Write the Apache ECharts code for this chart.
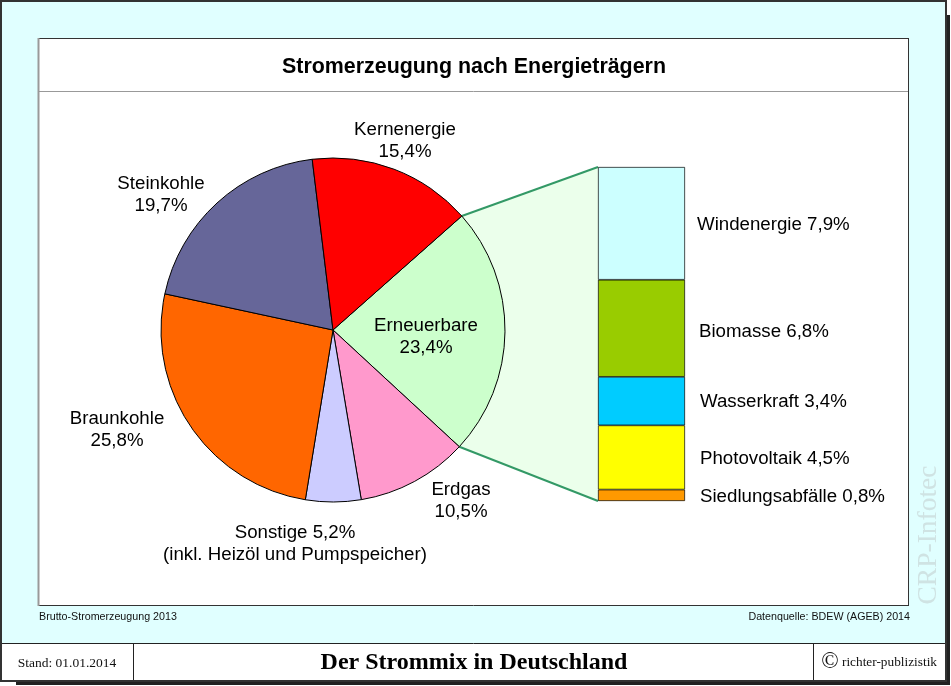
<!DOCTYPE html>
<html>
<head>
<meta charset="utf-8">
<title>Der Strommix in Deutschland</title>
<script src="https://cdn.jsdelivr.net/npm/echarts@6/dist/echarts.min.js"></script>
<style>
  html, body { margin: 0; padding: 0; background: #fff; }
  #chart { width: 951px; height: 686px; }
</style>
</head>
<body>
<div id="chart"></div>
<script>
// Strommix gesamt (Prozent)
var pieNames = ['Erneuerbare', 'Erdgas', 'Sonstige', 'Braunkohle', 'Steinkohle', 'Kernenergie']
var pieValues = [23.4, 10.5, 5.2, 25.8, 19.7, 15.4]
var pieColors = ['#ccffcc', '#ff99cc', '#ccccff', '#ff6600', '#666699', '#ff0000']
var pieLabels = ['Erneuerbare\n23,4%', 'Erdgas\n10,5%', 'Sonstige 5,2%\n(inkl. Heizöl und Pumpspeicher)', 'Braunkohle\n25,8%', 'Steinkohle\n19,7%', 'Kernenergie\n15,4%']
var pieLabelPos = [[426, 337], [461, 501], [295, 544], [117, 430], [161, 195], [405, 141]]

// Aufteilung Erneuerbare, von unten nach oben gestapelt
var barNames = ['Siedlungsabfälle', 'Photovoltaik', 'Wasserkraft', 'Biomasse', 'Windenergie']
var barValues = [0.8, 4.5, 3.4, 6.8, 7.9]
var barLabels = ['0,8%', '4,5%', '3,4%', '6,8%', '7,9%']
var barColors = ['#ff9900', '#ffff00', '#00ccff', '#99cc00', '#ccffff']
var barLabelDist = [15, 15, 15, 14, 12]
var barLabelShift = [2, 1, 1, 4, 1]
var barTotal = 23.4

var cx = 333, cy = 330, r = 172
var startAngle = 41.5

var sans = '"Liberation Sans", Arial, sans-serif'
var serif = '"Liberation Serif", "Times New Roman", serif'

// Rahmen und Fussleiste
function box(x, y, w, h, fill, stroke, z, width) {
  return { type: 'rect', z: z, silent: true, shape: { x: x, y: y, width: w, height: h }, style: { fill: fill, stroke: stroke, lineWidth: stroke ? (width || 1) : 0 } }
}
function line(x1, y1, x2, y2, color, width, z) {
  return { type: 'line', z: z, silent: true, shape: { x1: x1, y1: y1, x2: x2, y2: y2 }, style: { stroke: color, lineWidth: width } }
}
function text(x, y, str, font, fill, align, z) {
  return { type: 'text', z: z, silent: true, x: x, y: y, style: { text: str, font: font, fill: fill, textAlign: align || 'left', textVerticalAlign: 'middle' } }
}

var myChart = echarts.init(document.getElementById('chart'), null, { renderer: 'canvas' })

function buildGraphic() {
  // Verbindung Torte -> Saeule, Eckpunkte aus Winkel und Balkenachse
  var total = pieValues.reduce(function (a, b) { return a + b }, 0)
  var a1 = startAngle * Math.PI / 180
  var a2 = (startAngle - pieValues[0] / total * 360) * Math.PI / 180
  var p1 = [cx + r * Math.cos(a1), cy - r * Math.sin(a1)]
  var p2 = [cx + r * Math.cos(a2), cy - r * Math.sin(a2)]
  var barTop = myChart.convertToPixel({ gridIndex: 0 }, [0, barTotal])
  var barBottom = myChart.convertToPixel({ gridIndex: 0 }, [0, 0])
  var bx = 598
  return [
    box(16, 15, 934, 670, '#222222', null, -20),
    box(1, 1, 945, 680, '#e0ffff', '#333333', -19, 2),
    box(2, 643.5, 943, 36.5, '#ffffff', null, -18),
    line(2, 643.5, 945, 643.5, '#222222', 1, -17),
    line(133.5, 643, 133.5, 680, '#222222', 1, -17),
    line(813.5, 643, 813.5, 680, '#222222', 1, -17),
    box(39, 39, 869, 566, '#ffffff', null, -16),
    line(39, 38.5, 909, 38.5, '#333333', 1, -15),
    line(908.5, 38, 908.5, 606, '#333333', 1, -15),
    line(38, 605.5, 909, 605.5, '#333333', 1, -15),
    line(38.5, 38, 38.5, 606, '#999999', 2, -15),
    line(39, 91.5, 908, 91.5, '#999999', 1, -15),
    { type: 'polygon', z: -10, silent: true, shape: { points: [p1, [bx, barTop[1]], [bx, barBottom[1]], p2] }, style: { fill: '#ebffeb' } },
    line(p1[0], p1[1], bx, barTop[1], '#339966', 2, -9),
    line(p2[0], p2[1], bx, barBottom[1], '#339966', 2, -9),
    text(39, 617, 'Brutto-Stromerzeugung 2013', '10.7px ' + sans, '#111', 'left', 5),
    text(910, 617, 'Datenquelle: BDEW (AGEB) 2014', '10.7px ' + sans, '#111', 'right', 5),
    text(67, 663, 'Stand: 01.01.2014', '13.5px ' + serif, '#111', 'center', 5),
    text(474, 663, 'Der Strommix in Deutschland', 'bold 24px ' + serif, '#000', 'center', 5),
    text(830, 662, '©', '23px ' + serif, '#111', 'center', 5),
    text(842, 663, 'richter-publizistik', '13.3px ' + serif, '#111', 'left', 5),
    { type: 'text', z: 5, silent: true, x: 929, y: 535, rotation: Math.PI / 2, style: { text: 'CRP-Infotec', font: '27.5px ' + serif, fill: '#cfe3e3', textAlign: 'center', textVerticalAlign: 'middle' } }
  ]
}

var barSeries = barNames.map(function (name, i) {
  return {
    name: name,
    type: 'bar',
    stack: 'erneuerbare',
    barWidth: '100%',
    data: [barValues[i]],
    itemStyle: { color: barColors[i], borderColor: '#000', borderWidth: 0.7 },
    label: {
      show: true,
      position: 'right',
      distance: barLabelDist[i],
      offset: [0, barLabelShift[i]],
      formatter: name + ' ' + barLabels[i],
      fontFamily: sans,
      fontSize: 18.7,
      color: '#000'
    }
  }
})

var option = {
  animation: false,
  title: {
    text: 'Stromerzeugung nach Energieträgern',
    left: 469,
    top: 52,
    textAlign: 'center',
    textStyle: { fontFamily: sans, fontWeight: 'bold', fontSize: 21.4, color: '#000' }
  },
  grid: { left: 598, top: 167, width: 87, height: 334 },
  xAxis: { type: 'category', data: ['Erneuerbare'], show: false },
  yAxis: { type: 'value', min: 0, max: barTotal, show: false },
  series: [{
    type: 'pie',
    center: [cx, cy],
    radius: [0, r],
    startAngle: startAngle,
    clockwise: true,
    z: 3,
    data: pieNames.map(function (name, i) {
      return { name: name, value: pieValues[i], itemStyle: { color: pieColors[i] } }
    }),
    itemStyle: { borderColor: '#000', borderWidth: 1 },
    labelLine: { show: false },
    label: {
      show: true,
      position: 'outside',
      formatter: function (p) { return pieLabels[p.dataIndex] },
      fontFamily: sans,
      fontSize: 18.7,
      lineHeight: 22,
      align: 'center',
      color: '#000'
    },
    labelLayout: function (p) {
      return { x: pieLabelPos[p.dataIndex][0], y: pieLabelPos[p.dataIndex][1], align: 'center', verticalAlign: 'middle' }
    }
  }].concat(barSeries)
}

myChart.setOption(option)
myChart.setOption({ graphic: { elements: buildGraphic() } })
</script>
</body>
</html>
